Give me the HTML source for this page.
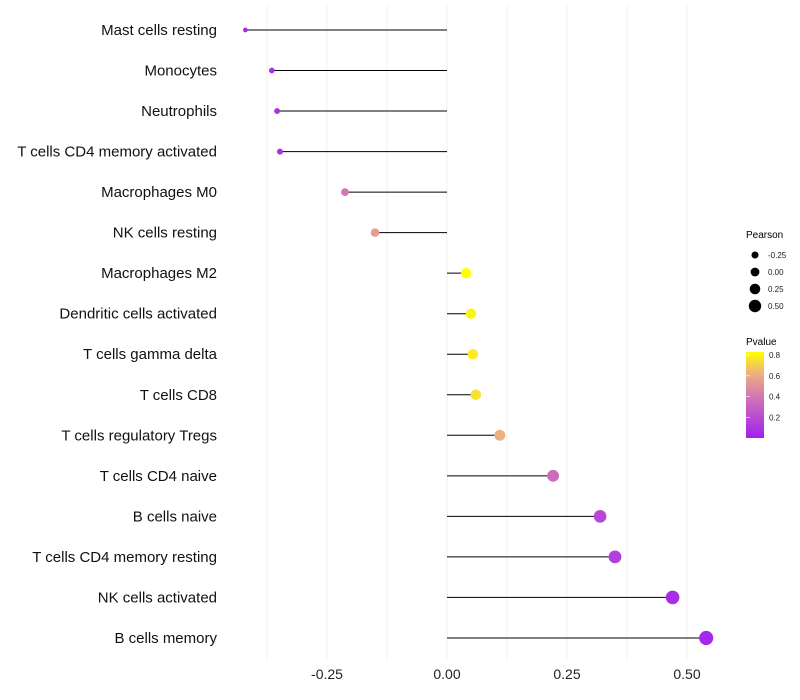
<!DOCTYPE html>
<html><head><meta charset="utf-8"><style>
body{margin:0;background:#fff;}
svg{display:block;font-family:"Liberation Sans",sans-serif;}
</style></head><body>
<svg id="chart" width="800" height="700">
<g id="grid"></g>
<g id="marks"></g>
<g id="ylabels"></g>
<g id="xlabels"></g>
<g id="legend">
<defs><linearGradient id="pg" x1="0" y1="1" x2="0" y2="0">
<stop offset="0" stop-color="#a020f0"/><stop offset="0.45" stop-color="#d070b8"/><stop offset="0.75" stop-color="#eeb080"/><stop offset="1" stop-color="#ffff00"/>
</linearGradient></defs>
<text x="746" y="238" font-size="10">Pearson</text>
<text x="746" y="345" font-size="10">Pvalue</text>
<rect x="746" y="352" width="18" height="86" fill="url(#pg)"/>
</g>
</svg>
<script>
const cells=["Mast cells resting","Monocytes","Neutrophils","T cells CD4 memory activated","Macrophages M0","NK cells resting","Macrophages M2","Dendritic cells activated","T cells gamma delta","T cells CD8","T cells regulatory  Tregs","T cells CD4 naive","B cells naive","T cells CD4 memory resting","NK cells activated","B cells memory"];
const pearson=[-0.42,-0.365,-0.354,-0.348,-0.2125,-0.15,0.04,0.05,0.054,0.06,0.11,0.221,0.319,0.35,0.47,0.54];
const pvalue=[0.05,0.08,0.08,0.08,0.4,0.55,0.84,0.8,0.78,0.75,0.62,0.35,0.18,0.14,0.06,0.04];
const xTicks=[-0.25,0,0.25,0.5];
const xTickLabels=["-0.25","0.00","0.25","0.50"];
const legendSizes=[-0.25,0,0.25,0.5];
const legendSizeLabels=["-0.25","0.00","0.25","0.50"];
const pTicks=[0.2,0.4,0.6,0.8];

const NS="http://www.w3.org/2000/svg";
const x=v=>447+v*480;
const y=i=>30+i*40.53;
const r=v=>Math.sqrt(Math.max(2,25+46*v));
function lerp(a,b,t){return a.map((c,k)=>Math.round(c+(b[k]-c)*t));}
const stops=[[0,[160,32,240]],[0.45,[208,112,184]],[0.75,[238,176,128]],[1,[255,255,0]]];
function col(p){let t=Math.min(1,Math.max(0,p/0.83));for(let k=1;k<stops.length;k++){if(t<=stops[k][0]){const a=stops[k-1],b=stops[k];const c=lerp(a[1],b[1],(t-a[0])/(b[0]-a[0]));return`rgb(${c})`;}}return"rgb(255,255,0)";}
function mk(tag,attrs,parent){const e=document.createElementNS(NS,tag);for(const k in attrs)e.setAttribute(k,attrs[k]);parent.appendChild(e);return e;}
const grid=document.getElementById('grid'),marks=document.getElementById('marks'),yl=document.getElementById('ylabels'),xl=document.getElementById('xlabels'),lg=document.getElementById('legend');
for(let k=-3;k<=4;k++){const v=k*0.125;const g=mk('line',{x1:x(v),x2:x(v),y1:5,y2:660,stroke:'#f0f0f0','stroke-width':1},grid);

}
xTicks.forEach((v,i)=>{const t=mk('text',{x:x(v),y:679,'font-size':14,'text-anchor':'middle',fill:'#222'},xl);t.textContent=xTickLabels[i];

});
cells.forEach((c,i)=>{
const t=mk('text',{x:217,y:y(i)+5,'font-size':15,'text-anchor':'end',fill:'#111','xml:space':'preserve'},yl);t.textContent=c;


const l=mk('line',{x1:x(0),x2:x(pearson[i]),y1:y(i),y2:y(i),stroke:'#000','stroke-width':1},marks);


const p=mk('circle',{cx:x(pearson[i]),cy:y(i),r:r(pearson[i]),fill:col(pvalue[i])},marks);


});
legendSizes.forEach((v,i)=>{const cy=255+i*17;
const c=mk('circle',{cx:755,cy:cy,r:3.5+i*0.9,fill:'#000'},lg);


const t=mk('text',{x:768,y:cy+3,'font-size':8,fill:'#222'},lg);t.textContent=legendSizeLabels[i];

});
pTicks.forEach(v=>{const cy=438-v/0.83*86;
const t=mk('text',{x:769,y:cy+3,'font-size':8,fill:'#222'},lg);t.textContent=v.toFixed(1);


const tk=mk('line',{x1:746,x2:750,y1:cy,y2:cy,stroke:'#fff','stroke-width':0.6},lg);

});
</script>
</body></html>
